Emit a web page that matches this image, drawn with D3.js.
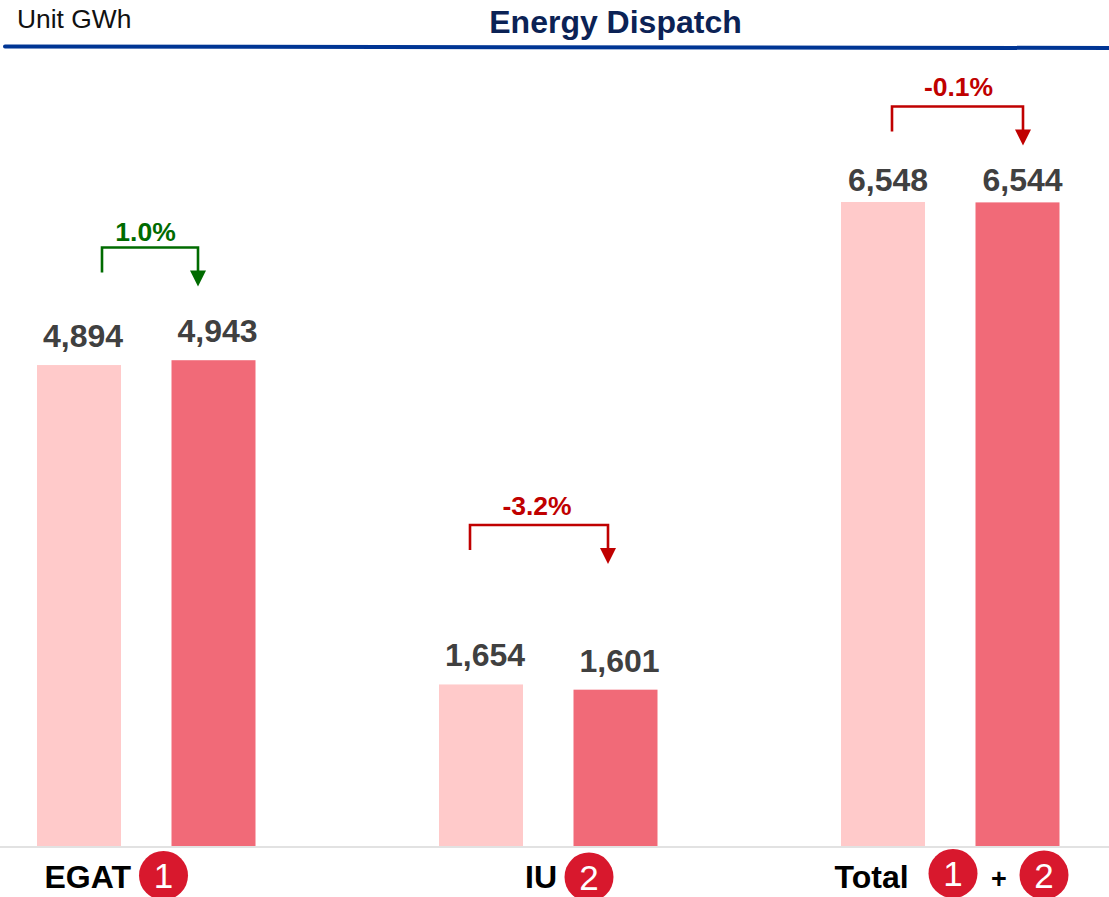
<!DOCTYPE html>
<html><head><meta charset="utf-8">
<script src="https://cdn.jsdelivr.net/npm/d3@7"></script>
<style>html,body{margin:0;padding:0;background:#fff;overflow:hidden}svg{display:block;font-family:"Liberation Sans",Arial,sans-serif}</style>
</head><body><svg id="c" width="1109" height="897"></svg>
<script>
const categories = ["EGAT", "IU", "Total"];
const periods = ["Previous", "Current"];
const previousValues = [4894, 1654, 6548];
const currentValues = [4943, 1601, 6544];
const changeLabels = ["1.0%", "-3.2%", "-0.1%"];
const changeUp = [true, false, false];

const colors = {prev:"#ffcaca", cur:"#f16a78", text:"#404040", up:"#006b00", down:"#c00000", badge:"#d8182d", title:"#0b2255", rule:"#003594", base:"#e2e2e2"};
const baseY = 847.5, plotTop = 202;
const svg = d3.select("#c");

const x0 = d3.scaleBand().domain(categories).range([37, 37 + 3*402]);
const x1 = d3.scaleBand().domain(periods).range([0, 218.5]).paddingInner(50.5/134.5).paddingOuter(0);
const y = d3.scaleLinear().domain([0, 6548]).range([baseY, plotTop]);
const valueLabelGap = [18, 18, 11];
const valueLabelShift = [4, 4, 5];

// bars
categories.forEach((c,i)=>{
  const vals = [previousValues[i], currentValues[i]];
  const g = svg.append("g").attr("transform",`translate(${x0(c)},0)`);
  g.selectAll("rect").data(vals).join("rect")
    .attr("x",(d,j)=>x1(periods[j])).attr("width",x1.bandwidth())
    .attr("y",d=>y(d)).attr("height",d=>baseY-y(d))
    .attr("fill",(d,j)=>j?colors.cur:colors.prev);
  g.selectAll("text").data(vals).join("text")
    .attr("x",(d,j)=>x1(periods[j])+x1.bandwidth()/2+valueLabelShift[i])
    .attr("y",d=>y(d)-valueLabelGap[i])
    .attr("text-anchor","middle").attr("font-size",32).attr("font-weight",700).attr("fill",colors.text)
    .text(d3.format(",d"));
});

// baseline
svg.append("line").attr("x1",0).attr("x2",1109).attr("y1",847).attr("y2",847).attr("stroke",colors.base).attr("stroke-width",2);

// header
svg.append("line").attr("x1",5).attr("x2",1109).attr("y1",46.5).attr("y2",48).attr("stroke",colors.rule).attr("stroke-width",4).attr("stroke-linecap","round");
svg.append("text").attr("x",17).attr("y",28).attr("font-size",26.4).attr("fill","#111").text("Unit GWh");
svg.append("text").attr("x",615.5).attr("y",33).attr("text-anchor","middle").attr("font-size",32).attr("font-weight",700).attr("fill",colors.title).text("Energy Dispatch");

// change brackets (layout of annotations)
const bracketLeft = [102, 470, 892], bracketRight = [198, 608, 1023], bracketTop = [247.5, 525, 106.5];
const labelCenter = [145.5, 537, 958.5], labelBase = [241, 515, 96];
categories.forEach((c,i)=>{
  const col = changeUp[i]?colors.up:colors.down;
  const L=bracketLeft[i],R=bracketRight[i],T=bracketTop[i];
  svg.append("path").attr("d",`M${L},${T+25}V${T}H${R}V${T+26}`).attr("fill","none").attr("stroke",col).attr("stroke-width",2.6);
  svg.append("path").attr("d",`M${R-8},${T+23}H${R+8}L${R},${T+39}Z`).attr("fill",col);
  svg.append("text").attr("x",labelCenter[i]).attr("y",labelBase[i]).attr("text-anchor","middle").attr("font-size",26.5).attr("font-weight",700).attr("fill",col).text(changeLabels[i]);
});

// category labels and badges
const catLabelX = [44.5, 525, 834.5];
categories.forEach((c,i)=>svg.append("text").attr("x",catLabelX[i]).attr("y",888).attr("font-size",32).attr("font-weight",700).attr("fill","#000").text(c));
const badges = [[163.5,875.5,"1"],[589,877,"2"],[953,873.5,"1"],[1044,875,"2"]];
badges.forEach(b=>{
  svg.append("circle").attr("cx",b[0]).attr("cy",b[1]).attr("r",24.5).attr("fill",colors.badge);
  svg.append("text").attr("x",b[0]).attr("y",b[1]+12.5).attr("text-anchor","middle").attr("font-size",35).attr("fill","#fff").text(b[2]);
});
svg.append("text").attr("x",999).attr("y",888).attr("text-anchor","middle").attr("font-size",27).attr("font-weight",700).attr("fill","#000").text("+");
</script></body></html>
